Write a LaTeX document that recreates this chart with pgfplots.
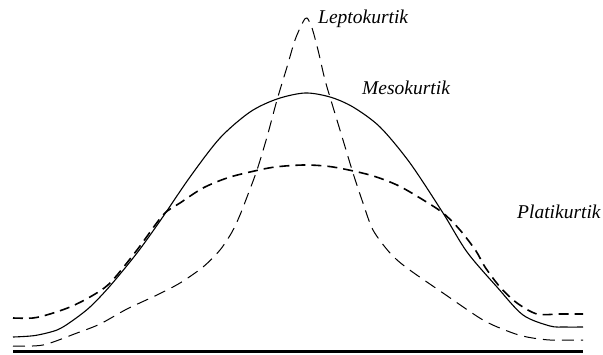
\documentclass[border=0pt]{standalone}
\usepackage{pgfplots}
\pgfplotsset{compat=1.18}
\usepackage{fontspec}
\setmainfont{Liberation Serif}
\begin{document}
\begin{tikzpicture}
\begin{axis}[
  width=603pt, height=354pt, scale only axis,
  xmin=0, xmax=603, ymin=0, ymax=354, y dir=reverse,
  hide axis, clip=false,
]
% baseline
\addplot[black, line width=2.4pt] coordinates {(13,351.5) (583,351.5)};
% Mesokurtik (solid)
\addplot[black, line width=1.1pt, smooth, tension=0.5] coordinates {
(13,337) (35,335.5) (57,330) (72,321) (90,307) (110,286) (137,253) (160,221) (190,177) (220,138) (250,112) (277,99) (305,93) (330,97) (353,107) (380,127) (410,163) (443,213) (467,252) (497,287) (523,315) (550,326) (565,327) (583,327)};
% Platikurtik (heavy dashed)
\addplot[black, line width=1.6pt, dash pattern=on 10pt off 6pt, smooth, tension=0.5] coordinates {
(13,318) (33,318) (50,314) (70,307) (90,297) (110,283) (137,250) (163,215) (180,203) (203,188) (227,178) (250,172) (275,167) (305,165) (333,167) (370,175) (397,185) (420,198) (443,213) (460,230) (476,251) (485,267) (500,287) (517,303) (537,314) (560,314) (583,314)};
% Leptokurtik (thin dashed)
\addplot[black, line width=1pt, dash pattern=on 12pt off 7pt, smooth, tension=0.5] coordinates {
(13,346) (43,345) (77,333) (100,324) (127,309) (157,295) (180,283) (203,267) (220,250) (232,232) (240,215) (247,197) (257,170) (267,137) (277,100) (287,67) (295,40) (303,22) (307,18) (312,28) (318,50) (325,80) (333,107) (343,140) (353,173) (363,203) (373,230) (390,253) (407,268) (443,293) (483,320) (510,332) (527,337) (550,340) (583,340)};
\node[anchor=west, inner sep=0pt, font=\fontsize{19.5}{22}\selectfont\itshape] at (axis cs:318,19) {Leptokurtik};
\node[anchor=west, inner sep=0pt, font=\fontsize{19.5}{22}\selectfont\itshape] at (axis cs:362,88) {Mesokurtik};
\node[anchor=west, inner sep=0pt, font=\fontsize{19.5}{22}\selectfont\itshape] at (axis cs:517,212) {Platikurtik};
\end{axis}
\pgfresetboundingbox
\path[use as bounding box] (current axis.south west) rectangle (current axis.north east);
\end{tikzpicture}
\end{document}
